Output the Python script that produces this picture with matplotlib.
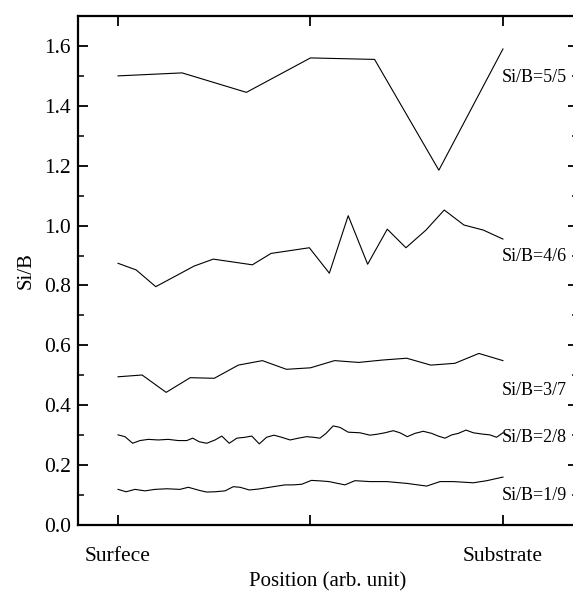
import matplotlib
matplotlib.use("Agg")
import matplotlib.pyplot as plt
from matplotlib.ticker import MultipleLocator, FormatStrFormatter

plt.rcParams["font.family"] = ["Liberation Serif", "DejaVu Serif"]

# Depth profiles of Si/B ratio (position in arbitrary units, 0 = surface, 2 = substrate)
x_55 = [0.0, 0.333, 0.667, 1.0, 1.333, 1.667, 2.0]
y_55 = [1.50, 1.51, 1.445, 1.56, 1.555, 1.185, 1.59]

x_46 = [0.0, 0.094, 0.196, 0.396, 0.495, 0.698, 0.795, 0.994, 1.098, 1.196,
        1.297, 1.399, 1.496, 1.6, 1.695, 1.797, 1.898, 2.0]
y_46 = [0.874, 0.852, 0.796, 0.865, 0.888, 0.869, 0.907, 0.926, 0.841, 1.033,
        0.871, 0.988, 0.926, 0.985, 1.052, 1.002, 0.985, 0.955]

x_37 = [0.0, 0.125, 0.25, 0.375, 0.5, 0.625, 0.75, 0.875, 1.0, 1.125, 1.25,
        1.375, 1.5, 1.625, 1.75, 1.875, 2.0]
y_37 = [0.495, 0.501, 0.443, 0.492, 0.490, 0.534, 0.549, 0.520, 0.525, 0.549,
        0.543, 0.551, 0.557, 0.534, 0.540, 0.573, 0.549]

x_28 = [0.0, 0.036, 0.076, 0.114, 0.157, 0.209, 0.261, 0.313, 0.357, 0.388,
        0.422, 0.461, 0.504, 0.539, 0.578, 0.617, 0.660, 0.695, 0.734, 0.772,
        0.810, 0.850, 0.894, 0.937, 0.980, 1.015, 1.049, 1.081, 1.118, 1.153,
        1.196, 1.257, 1.309, 1.344, 1.387, 1.430, 1.465, 1.503, 1.543, 1.586,
        1.630, 1.664, 1.699, 1.734, 1.768, 1.808, 1.846, 1.889, 1.932, 1.967,
        2.0]
y_28 = [0.301, 0.295, 0.273, 0.282, 0.286, 0.284, 0.286, 0.282, 0.282, 0.290,
        0.278, 0.273, 0.284, 0.297, 0.273, 0.290, 0.293, 0.297, 0.271, 0.293,
        0.300, 0.293, 0.284, 0.290, 0.295, 0.293, 0.290, 0.306, 0.331, 0.326,
        0.310, 0.308, 0.300, 0.303, 0.308, 0.315, 0.308, 0.295, 0.306, 0.313,
        0.306, 0.297, 0.290, 0.301, 0.306, 0.317, 0.308, 0.304, 0.301, 0.293,
        0.308]

x_19 = [0.0, 0.042, 0.088, 0.140, 0.192, 0.253, 0.322, 0.365, 0.426, 0.461,
        0.504, 0.556, 0.599, 0.634, 0.682, 0.729, 0.807, 0.868, 0.911, 0.954,
        1.005, 1.058, 1.096, 1.179, 1.231, 1.309, 1.396, 1.5, 1.604, 1.673,
        1.742, 1.846, 1.916, 2.0]
y_19 = [0.119, 0.111, 0.119, 0.114, 0.119, 0.121, 0.119, 0.126, 0.115, 0.110,
        0.111, 0.114, 0.128, 0.126, 0.117, 0.120, 0.128, 0.134, 0.134, 0.136,
        0.149, 0.147, 0.145, 0.134, 0.148, 0.145, 0.145, 0.139, 0.130, 0.145,
        0.145, 0.141, 0.148, 0.160]

labels = ["Si/B=5/5", "Si/B=4/6", "Si/B=3/7", "Si/B=2/8", "Si/B=1/9"]
label_y = [1.493, 0.898, 0.448, 0.292, 0.100]

xtick_pos = [0, 1, 2]
xtick_labels = ["Surfece", "", "Substrate"]

fig = plt.figure(figsize=(5.73, 5.92), dpi=100)
# the frame runs past the right edge of the canvas, so only the inward
# right-hand ticks remain visible there
ax = fig.add_axes([78 / 573, 67 / 592, 500 / 573, 509 / 592])

series = [(x_55, y_55), (x_46, y_46), (x_37, y_37), (x_28, y_28), (x_19, y_19)]
for (xs, ys) in series:
    ax.plot(xs, ys, color="black", lw=0.8)

for text, yv in zip(labels, label_y):
    ax.text(1.995, yv, text, fontsize=13, ha="left", va="center")

ax.set_xlim(-0.208, 2.39)
ax.set_ylim(0, 1.7)
ax.set_xticks(xtick_pos)
ax.set_xticklabels(xtick_labels)
ax.yaxis.set_major_locator(MultipleLocator(0.2))
ax.yaxis.set_minor_locator(MultipleLocator(0.1))
ax.yaxis.set_major_formatter(FormatStrFormatter("%.1f"))

ax.tick_params(axis="both", which="major", direction="in", length=7, width=1.3,
               labelsize=15.5, top=True, right=True)
ax.tick_params(axis="y", which="minor", direction="in", length=4, width=1.1,
               right=True)
ax.tick_params(axis="x", which="major", pad=16)
ax.tick_params(axis="y", which="major", pad=5)

for sp in ax.spines.values():
    sp.set_linewidth(1.6)

ax.set_xlabel("Position (arb. unit)", fontsize=15, labelpad=4)
ax.set_ylabel("Si/B", fontsize=15, labelpad=6)

fig.savefig("out.png", dpi=100)
